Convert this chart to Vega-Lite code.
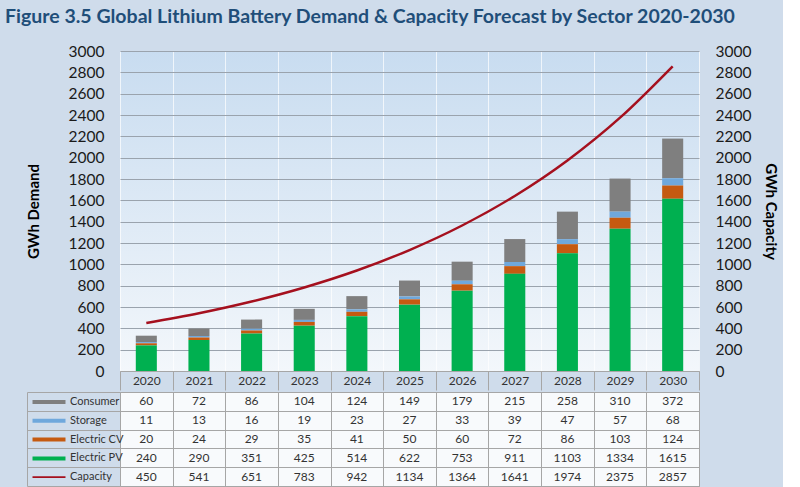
{
  "$schema": "https://vega.github.io/schema/vega-lite/v6.json",
  "background": "#cfdceb",
  "padding": {"left": 5, "top": 6, "right": 5, "bottom": 2},
  "title": {"text": "Figure 3.5 Global Lithium Battery Demand & Capacity Forecast by Sector 2020-2030", "anchor": "start", "frame": "bounds", "fontSize": 19.5, "font": "Lato", "fontWeight": "bold", "color": "#1f4e79", "offset": 17, "dx": -21},
  "config": {"font": "Lato", "view": {"stroke": null}},
  "datasets": {
    "sectorOrder": [
      {"series": "Electric PV", "stackRank": 1},
      {"series": "Electric CV", "stackRank": 2},
      {"series": "Storage", "stackRank": 3},
      {"series": "Consumer", "stackRank": 4}
    ]
  },
  "data": {"values": [
    {"year": "2020", "series": "Consumer", "value": 60}, {"year": "2021", "series": "Consumer", "value": 72}, {"year": "2022", "series": "Consumer", "value": 86}, {"year": "2023", "series": "Consumer", "value": 104}, {"year": "2024", "series": "Consumer", "value": 124}, {"year": "2025", "series": "Consumer", "value": 149}, {"year": "2026", "series": "Consumer", "value": 179}, {"year": "2027", "series": "Consumer", "value": 215}, {"year": "2028", "series": "Consumer", "value": 258}, {"year": "2029", "series": "Consumer", "value": 310}, {"year": "2030", "series": "Consumer", "value": 372},
    {"year": "2020", "series": "Storage", "value": 11}, {"year": "2021", "series": "Storage", "value": 13}, {"year": "2022", "series": "Storage", "value": 16}, {"year": "2023", "series": "Storage", "value": 19}, {"year": "2024", "series": "Storage", "value": 23}, {"year": "2025", "series": "Storage", "value": 27}, {"year": "2026", "series": "Storage", "value": 33}, {"year": "2027", "series": "Storage", "value": 39}, {"year": "2028", "series": "Storage", "value": 47}, {"year": "2029", "series": "Storage", "value": 57}, {"year": "2030", "series": "Storage", "value": 68},
    {"year": "2020", "series": "Electric CV", "value": 20}, {"year": "2021", "series": "Electric CV", "value": 24}, {"year": "2022", "series": "Electric CV", "value": 29}, {"year": "2023", "series": "Electric CV", "value": 35}, {"year": "2024", "series": "Electric CV", "value": 41}, {"year": "2025", "series": "Electric CV", "value": 50}, {"year": "2026", "series": "Electric CV", "value": 60}, {"year": "2027", "series": "Electric CV", "value": 72}, {"year": "2028", "series": "Electric CV", "value": 86}, {"year": "2029", "series": "Electric CV", "value": 103}, {"year": "2030", "series": "Electric CV", "value": 124},
    {"year": "2020", "series": "Electric PV", "value": 240}, {"year": "2021", "series": "Electric PV", "value": 290}, {"year": "2022", "series": "Electric PV", "value": 351}, {"year": "2023", "series": "Electric PV", "value": 425}, {"year": "2024", "series": "Electric PV", "value": 514}, {"year": "2025", "series": "Electric PV", "value": 622}, {"year": "2026", "series": "Electric PV", "value": 753}, {"year": "2027", "series": "Electric PV", "value": 911}, {"year": "2028", "series": "Electric PV", "value": 1103}, {"year": "2029", "series": "Electric PV", "value": 1334}, {"year": "2030", "series": "Electric PV", "value": 1615},
    {"year": "2020", "series": "Capacity", "value": 450}, {"year": "2021", "series": "Capacity", "value": 541}, {"year": "2022", "series": "Capacity", "value": 651}, {"year": "2023", "series": "Capacity", "value": 783}, {"year": "2024", "series": "Capacity", "value": 942}, {"year": "2025", "series": "Capacity", "value": 1134}, {"year": "2026", "series": "Capacity", "value": 1364}, {"year": "2027", "series": "Capacity", "value": 1641}, {"year": "2028", "series": "Capacity", "value": 1974}, {"year": "2029", "series": "Capacity", "value": 2375}, {"year": "2030", "series": "Capacity", "value": 2857}
  ]},
  "spacing": 0,
  "resolve": {"scale": {"x": "independent", "y": "independent", "color": "independent", "shape": "independent"}},
  "vconcat": [
    {
      "width": 579,
      "height": 320,
      "view": {"stroke": null, "fill": {"gradient": "linear", "x1": 0, "y1": 0, "x2": 0, "y2": 1, "stops": [{"offset": 0, "color": "#c8dcf0"}, {"offset": 1, "color": "#f3f7fb"}]}},
      "layer": [
        {
          "transform": [
            {"filter": "datum.series !== 'Capacity'"},
            {"lookup": "series", "from": {"data": {"name": "sectorOrder"}, "key": "series", "fields": ["stackRank"]}}
          ],
          "mark": {"type": "bar", "width": {"band": 0.4}},
          "encoding": {
            "x": {"field": "year", "type": "ordinal", "scale": {"paddingInner": 0, "paddingOuter": 0},
              "axis": {"title": null, "labelAngle": 0, "labelFontSize": 12, "labelColor": "#333333", "tickBand": "extent", "tickSize": 19, "tickColor": "#a6a6a6", "domainColor": "#a6a6a6", "labelPadding": -15, "grid": true, "gridColor": "#ffffff", "gridOpacity": 0.7}},
            "y": {"field": "value", "type": "quantitative", "stack": "zero", "scale": {"domain": [0, 3000]},
              "axis": {"title": "GWh Demand", "format": "d", "titleFontSize": 15, "titleFontWeight": "bold", "titleColor": "#000000", "titlePadding": 27, "labelFontSize": 15.5, "labelColor": "#1a1a1a", "labelPadding": 16, "ticks": false, "domain": false, "grid": true, "gridColor": "#9aa3ad", "values": [0, 200, 400, 600, 800, 1000, 1200, 1400, 1600, 1800, 2000, 2200, 2400, 2600, 2800, 3000]}},
            "color": {"field": "series", "type": "nominal",
              "scale": {"domain": ["Electric PV", "Electric CV", "Storage", "Consumer"], "range": ["#00b050", "#c55a11", "#6fa8dc", "#7f7f7f"]}, "legend": null},
            "order": {"field": "stackRank", "type": "quantitative", "sort": "ascending"}
          }
        },
        {
          "transform": [{"filter": "datum.series === 'Capacity'"}],
          "mark": {"type": "line", "color": "#a5101e", "strokeWidth": 2.5, "interpolate": "monotone"},
          "encoding": {
            "x": {"field": "year", "type": "ordinal"},
            "y": {"field": "value", "type": "quantitative", "scale": {"domain": [0, 3000]},
              "axis": {"orient": "right", "title": "GWh Capacity", "format": "d", "titleFontSize": 15, "titleFontWeight": "bold", "titleColor": "#000000", "titlePadding": 12, "labelFontSize": 15.5, "labelColor": "#1a1a1a", "labelPadding": 16, "ticks": false, "domain": false, "grid": false, "values": [0, 200, 400, 600, 800, 1000, 1200, 1400, 1600, 1800, 2000, 2200, 2400, 2600, 2800, 3000]}}
          }
        }
      ],
      "resolve": {"scale": {"y": "independent"}}
    },
    {
      "width": 579,
      "height": 94,
      "view": {"fill": "#f8fafc", "stroke": "#a6a6a6"},
      "layer": [
        {
          "mark": {"type": "text", "fontSize": 12, "color": "#333333"},
          "encoding": {
            "x": {"field": "year", "type": "ordinal", "scale": {"paddingInner": 0, "paddingOuter": 0},
              "axis": {"title": null, "labels": false, "ticks": false, "domain": false, "grid": true, "tickBand": "extent", "gridColor": "#a6a6a6"}},
            "y": {"field": "series", "type": "nominal", "sort": ["Consumer", "Storage", "Electric CV", "Electric PV", "Capacity"], "scale": {"paddingInner": 0, "paddingOuter": 0},
              "axis": {"title": null, "labels": false, "ticks": true, "offset": 93, "tickSize": -93, "tickBand": "extent", "tickColor": "#a6a6a6", "domain": true, "domainColor": "#a6a6a6", "grid": true, "gridColor": "#a6a6a6"}},
            "text": {"field": "value", "type": "quantitative", "format": "d"}
          }
        },
        {
          "mark": {"type": "point", "filled": true, "size": 0},
          "encoding": {
            "y": {"field": "series", "type": "nominal", "sort": ["Consumer", "Storage", "Electric CV", "Electric PV", "Capacity"]},
            "color": {"field": "series", "type": "nominal",
              "scale": {"domain": ["Consumer", "Storage", "Electric CV", "Electric PV", "Capacity"], "range": ["#7f7f7f", "#6fa8dc", "#c55a11", "#00b050", "#a5101e"]},
              "legend": {"title": null, "orient": "none", "legendX": -78, "legendY": 3, "padding": 0, "rowPadding": 6.8, "labelFontSize": 11, "labelColor": "#333333", "labelOffset": 14, "symbolSize": 174, "symbolOpacity": 1, "symbolStrokeWidth": 0, "labelLimit": 0}},
            "shape": {"field": "series", "type": "nominal",
              "scale": {"domain": ["Consumer", "Storage", "Electric CV", "Electric PV", "Capacity"], "range": ["M-2.5,-0.3H2.5V0.3H-2.5Z", "M-2.5,-0.3H2.5V0.3H-2.5Z", "M-2.5,-0.3H2.5V0.3H-2.5Z", "M-2.5,-0.3H2.5V0.3H-2.5Z", "M-2.5,-0.13H2.5V0.13H-2.5Z"]},
              "legend": {"title": null, "orient": "none", "legendX": -78, "legendY": 3, "padding": 0, "rowPadding": 6.8, "labelFontSize": 11, "labelColor": "#333333", "labelOffset": 14, "symbolSize": 174, "symbolOpacity": 1, "symbolStrokeWidth": 0, "labelLimit": 0}}
          }
        }
      ]
    }
  ]
}
